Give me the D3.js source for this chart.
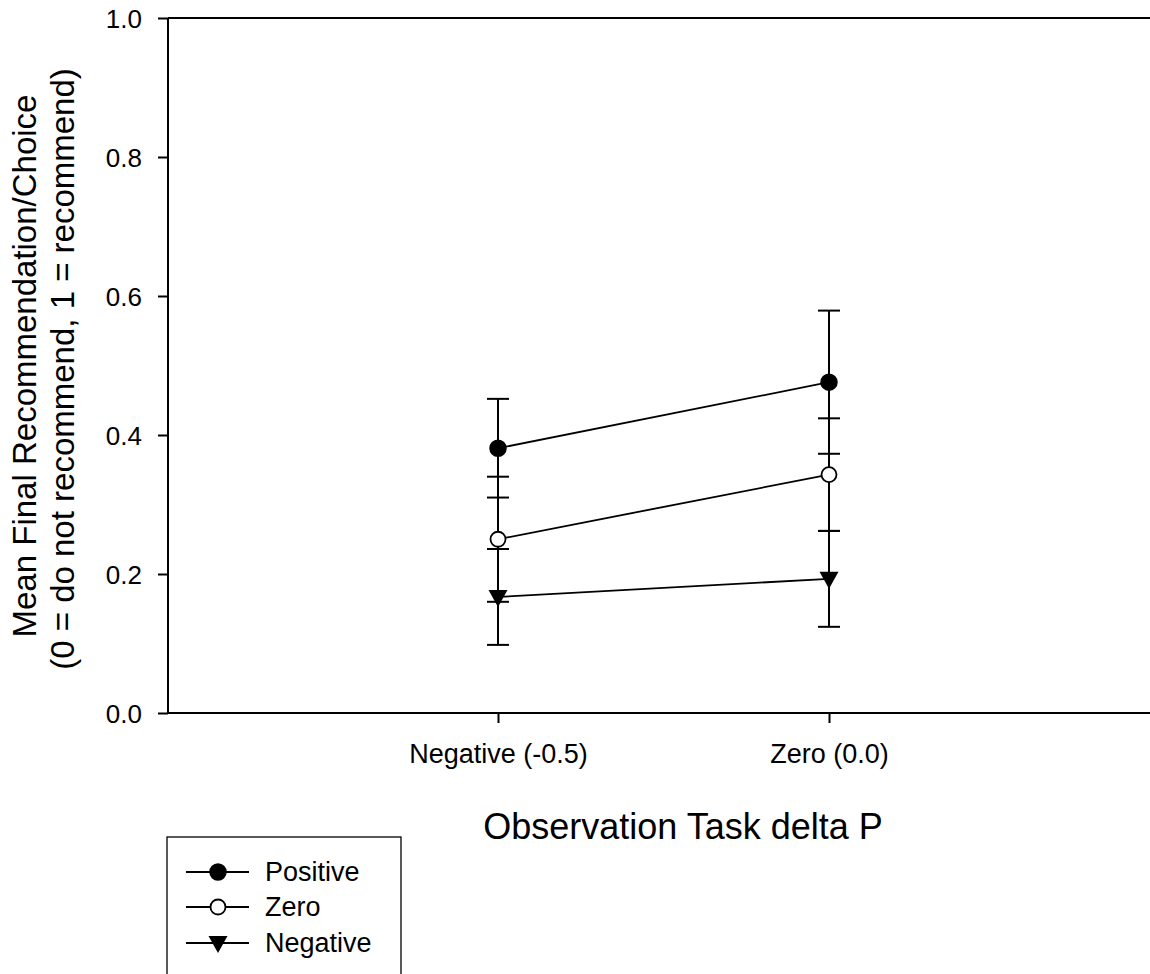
<!DOCTYPE html>
<html><head><meta charset="utf-8">
<script src="https://cdn.jsdelivr.net/npm/d3@7"></script>
<style>body{margin:0;background:#fff;} text{font-family:"Liberation Sans",Arial,sans-serif;fill:#000;}</style>
</head><body>
<svg id="c" width="1150" height="974"></svg>
<script>
const categories = ["Negative (-0.5)", "Zero (0.0)"];
const seriesNames = ["Positive", "Zero", "Negative"];
const positiveMean = [0.381, 0.476];
const positiveErr = [0.071, 0.103];
const zeroMean = [0.250, 0.343];
const zeroErr = [0.090, 0.081];
const negativeMean = [0.167, 0.193];
const negativeErr = [0.069, 0.069];
const yTicks = [0.0, 0.2, 0.4, 0.6, 0.8, 1.0];

const series = [
  {name: seriesNames[0], mean: positiveMean, err: positiveErr, marker: "filled"},
  {name: seriesNames[1], mean: zeroMean, err: zeroErr, marker: "open"},
  {name: seriesNames[2], mean: negativeMean, err: negativeErr, marker: "tri"}
];

const FONT = "Liberation Sans, Arial, sans-serif";

const svg = d3.select("#c");
const L = 168, T = 18, B = 713, R = 1160;
const x = d3.scaleLinear().domain([-1, 2]).range([L - 1, R]);
const y = d3.scaleLinear().domain([0, 1]).range([B, T]);

// axes
const yAxis = d3.axisLeft(y).tickValues(yTicks).tickFormat(d3.format(".1f")).tickSize(10);
const gy = svg.append("g").attr("transform", `translate(${L},0)`).call(yAxis);
gy.select(".domain").attr("stroke-width", 2).attr("d", `M0,${B}V${T}`);
gy.selectAll(".tick line").attr("stroke-width", 2);
gy.selectAll(".tick text").attr("font-family", FONT).style("font-size", "26px")
  .attr("x", -26).attr("dy", null).attr("y", 9);

const xAxis = d3.axisBottom(x).tickValues([0, 1]).tickFormat(i => categories[i]).tickSize(10);
const gx = svg.append("g").attr("transform", `translate(0,${B})`).call(xAxis);
gx.select(".domain").attr("stroke-width", 2).attr("d", `M${L},0H${R}`);
gx.selectAll(".tick line").attr("stroke-width", 2);
gx.selectAll(".tick text").attr("font-family", FONT).style("font-size", "27px")
  .attr("dy", null).attr("y", 50);

// top border
svg.append("line").attr("x1", L).attr("x2", R).attr("y1", T).attr("y2", T).attr("stroke", "#000").attr("stroke-width", 2);

// titles
svg.append("text").attr("x", 683).attr("y", 839).attr("text-anchor", "middle").style("font-size", "36px").text("Observation Task delta P");
const yt = svg.append("text").attr("transform", "translate(0,366) rotate(-90)").attr("text-anchor", "middle").style("font-size", "33px");
yt.append("tspan").attr("x", 0).attr("y", 36).text("Mean Final Recommendation/Choice");
yt.append("tspan").attr("x", -3).attr("y", 74).text("(0 = do not recommend, 1 = recommend)");

function drawMarker(g, type, cx, cy) {
  if (type === "filled") g.append("circle").attr("cx", cx).attr("cy", cy).attr("r", 8).attr("fill", "#000").attr("stroke", "#000").attr("stroke-width", 1.5);
  else if (type === "open") g.append("circle").attr("cx", cx).attr("cy", cy).attr("r", 7.5).attr("fill", "#fff").attr("stroke", "#000").attr("stroke-width", 1.8);
  else g.append("path").attr("d", `M${cx-9.5},${cy-7}L${cx+9.5},${cy-7}L${cx},${cy+10}Z`).attr("fill", "#000");
}

const plot = svg.append("g");
// error bars
series.forEach(s => {
  s.mean.forEach((m, i) => {
    const cx = x(i);
    plot.append("line").attr("x1", cx).attr("x2", cx).attr("y1", y(m - s.err[i])).attr("y2", y(m + s.err[i])).attr("stroke", "#000").attr("stroke-width", 2);
    [m - s.err[i], m + s.err[i]].forEach(v => {
      plot.append("line").attr("x1", cx - 11).attr("x2", cx + 11).attr("y1", y(v)).attr("y2", y(v)).attr("stroke", "#000").attr("stroke-width", 2);
    });
  });
});
// lines & markers
const line = d3.line().x((d, i) => x(i)).y(d => y(d));
series.forEach(s => {
  plot.append("path").attr("d", line(s.mean)).attr("fill", "none").attr("stroke", "#000").attr("stroke-width", 1.8);
});
series.forEach(s => {
  s.mean.forEach((m, i) => drawMarker(plot, s.marker, x(i), y(m)));
});

// legend
const lg = svg.append("g");
lg.append("rect").attr("x", 167).attr("y", 837).attr("width", 234).attr("height", 160).attr("fill", "#fff").attr("stroke", "#000").attr("stroke-width", 1.3);
const rowsY = [872, 907, 943];
series.forEach((s, k) => {
  const yy = rowsY[k];
  lg.append("line").attr("x1", 186).attr("x2", 249).attr("y1", yy).attr("y2", yy).attr("stroke", "#000").attr("stroke-width", 1.8);
  drawMarker(lg, s.marker, 218, yy);
  lg.append("text").attr("x", 265).attr("y", yy + 9).style("font-size", "27px").text(s.name);
});
</script>
</body></html>
